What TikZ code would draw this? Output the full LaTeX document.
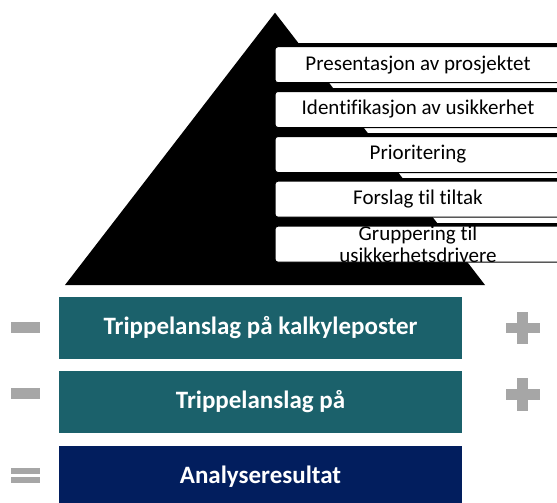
\documentclass[tikz,border=0pt]{standalone}
\usepackage{fontspec}
\setmainfont{Carlito}[Ligatures={NoCommon}]
\definecolor{tealbar}{HTML}{1B616B}
\definecolor{navybar}{HTML}{021E5E}
\definecolor{signgray}{HTML}{A6A6A6}
\tikzset{
  stepbox/.style={draw=black, line width=1pt, fill=white, rounded corners=3pt,
    minimum width=286pt, minimum height=36pt, inner sep=0pt, font=\fontsize{21}{22}\selectfont},
  barbox/.style={fill=#1, minimum width=403pt, minimum height=62pt, inner sep=0pt,
    text=white, font=\fontsize{25}{28}\selectfont\bfseries},
  sign/.style={fill=signgray},
  shelf/.style={line width=3pt, black}
}
\begin{document}
\begin{tikzpicture}[x=1pt,y=-1pt]
\useasboundingbox (0,0) rectangle (557,503);
\clip (0,0) rectangle (557,503);
% pyramid
\fill[black] (275,12.7) -- (485,285) -- (65,285) -- cycle;
% shelves
\draw[shelf] (297,44.2) -- (557,44.2);
\draw[shelf] (332,89.2) -- (557,89.2);
\draw[shelf] (367,134.2) -- (557,134.2);
\draw[shelf] (401,179.2) -- (557,179.2);
\draw[shelf] (436,224.2) -- (557,224.2);
% steps
\node[stepbox] (b1) at (418,64.7) {Presentasjon av prosjektet};
\node[stepbox] (b2) at (418,109.5) {Identifikasjon av usikkerhet};
\node[stepbox] (b3) at (418,154.5) {Prioritering};
\node[stepbox] (b4) at (418,199.2) {Forslag til tiltak};
\node[stepbox] (b5) at (418,244.2) {};
\node[align=center, inner sep=0pt, font=\fontsize{21}{22}\selectfont] (t5) at (b5.center) {Gruppering til\\usikkerhetsdrivere};
% bars
\node[barbox=tealbar] (k1) at (260.5,328) {Trippelanslag på kalkyleposter};
\node[barbox=tealbar] (k2) at (260.5,402) {Trippelanslag på};
\node[barbox=navybar] (k3) at (260.5,477) {Analyseresultat};
% minus signs
\fill[sign] (11,322) rectangle (40,333);
\fill[sign] (11,388) rectangle (40,399);
% equals
\fill[sign] (11,468) rectangle (40,474);
\fill[sign] (11,477) rectangle (40,483);
% plus signs
\fill[sign] (506,323) rectangle (540,333);
\fill[sign] (517,312) rectangle (528,344);
\fill[sign] (506,389) rectangle (540,400);
\fill[sign] (517,378) rectangle (528,411);
\end{tikzpicture}
\end{document}
